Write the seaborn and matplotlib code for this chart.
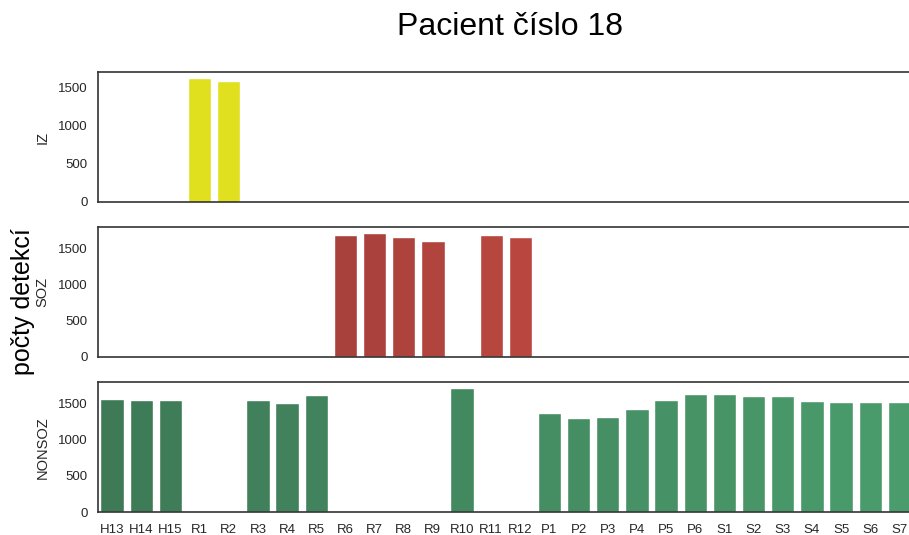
import matplotlib
matplotlib.use("Agg")
import matplotlib.pyplot as plt
import pandas as pd
import seaborn as sns

# Channel order along the shared x axis
channels = ["H13", "H14", "H15", "R1", "R2", "R3", "R4", "R5", "R6", "R7",
            "R8", "R9", "R10", "R11", "R12", "P1", "P2", "P3", "P4", "P5",
            "P6", "S1", "S2", "S3", "S4", "S5", "S6", "S7"]

# Detection counts per zone
iz_channels = ["R1", "R2"]
iz_counts = [1616, 1584]

soz_channels = ["R6", "R7", "R8", "R9", "R11", "R12"]
soz_counts = [1686, 1709, 1654, 1606, 1690, 1654]

nonsoz_channels = ["H13", "H14", "H15", "R3", "R4", "R5", "R10", "P1", "P2",
                   "P3", "P4", "P5", "P6", "S1", "S2", "S3", "S4", "S5", "S6",
                   "S7"]
nonsoz_counts = [1562, 1552, 1552, 1552, 1506, 1613, 1706, 1366, 1301, 1319,
                 1427, 1552, 1632, 1628, 1599, 1599, 1538, 1515, 1515, 1520]

zone_names = ["IZ", "SOZ", "NONSOZ"]

sns.set_style("white")
plt.rcParams["font.family"] = ["Liberation Sans", "DejaVu Sans"]

# Colour per channel for each zone
iz_pal = {c: "#E0E01E" for c in channels}
red_span = channels[channels.index("R6"):channels.index("R12") + 1]
red_cols = sns.blend_palette(["#A8403B", "#BA473F"], len(red_span))
soz_pal = {c: "#A8403B" for c in channels}
soz_pal.update(dict(zip(red_span, red_cols)))
green_cols = sns.blend_palette(["#3E7A56", "#4A9C6C"], len(channels))
nonsoz_pal = dict(zip(channels, green_cols))

frames = [
    pd.DataFrame({"kanal": iz_channels, "pocet": iz_counts}),
    pd.DataFrame({"kanal": soz_channels, "pocet": soz_counts}),
    pd.DataFrame({"kanal": nonsoz_channels, "pocet": nonsoz_counts}),
]
palettes = [iz_pal, soz_pal, nonsoz_pal]

W, H = 909, 535
fig = plt.figure(figsize=(W / 100, H / 100), dpi=100)

left, right = 97.5, 914.0
boxes = [(72.3, 201.6), (227.3, 356.7), (382.3, 512.2)]
axes = []
for top, bottom in boxes:
    ax = fig.add_axes([left / W, 1 - bottom / H, (right - left) / W,
                       (bottom - top) / H])
    axes.append(ax)

for ax, df, pal, name in zip(axes, frames, palettes, zone_names):
    sns.barplot(data=df, x="kanal", y="pocet", hue="kanal", order=channels,
                hue_order=channels, palette=pal, saturation=1, legend=False,
                ax=ax)
    ax.set_xlim(-0.5, len(channels) - 0.5)
    ax.set_ylabel(name, fontsize=10.5, color="#262626", labelpad=6)
    ax.set_xlabel("")
    ax.set_yticks([0, 500, 1000, 1500])
    ax.tick_params(axis="y", labelsize=9.5, colors="#262626")
    ax.tick_params(axis="x", labelsize=9.5, colors="#262626", pad=5)
    for s in ax.spines.values():
        s.set_color("#333333")
        s.set_linewidth(1.2)

for ax in axes[:2]:
    ax.set_xticklabels([])

fig.text(510 / W, 1 - 27 / H, "Pacient číslo 18", ha="center", va="center",
         fontsize=23, color="black")
fig.text(23 / W, 1 - 302 / H, "počty detekcí", ha="center", va="center",
         rotation=90, fontsize=18, color="black")

fig.savefig("out.png", dpi=100)
